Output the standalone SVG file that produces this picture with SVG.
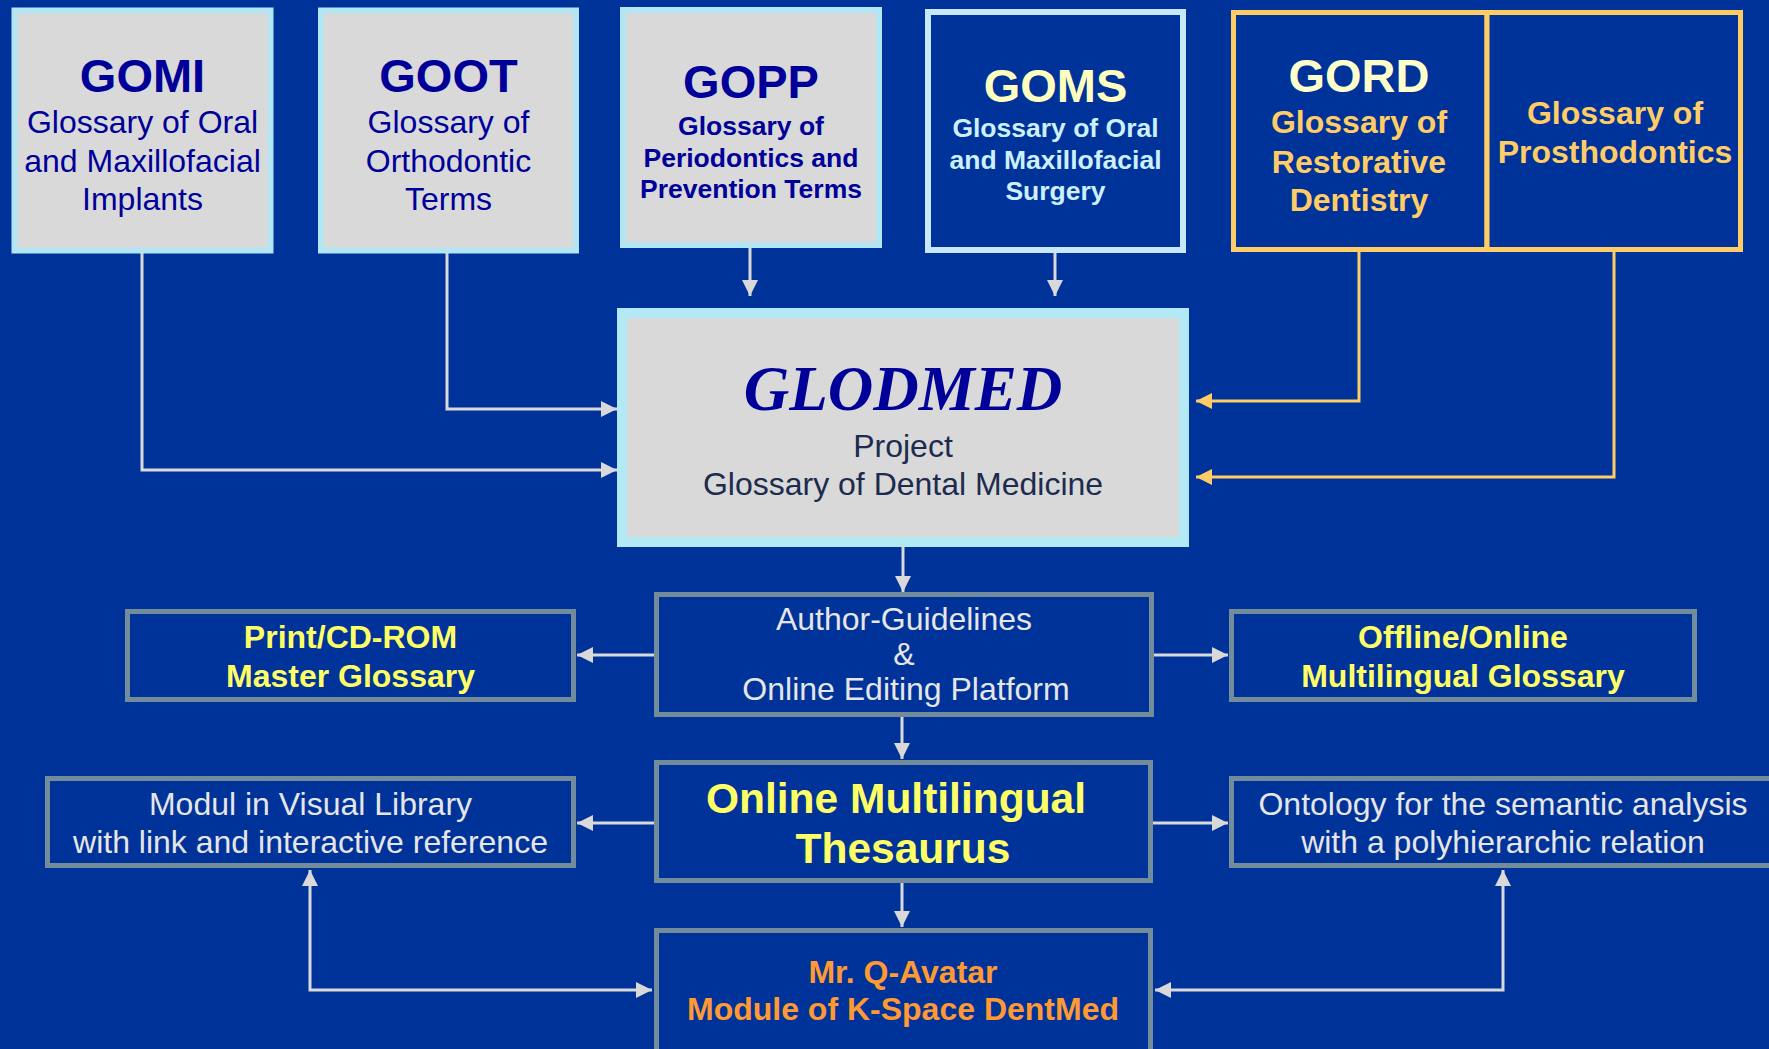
<svg xmlns="http://www.w3.org/2000/svg" width="1769" height="1049" viewBox="0 0 1769 1049">
<defs>
<style>
text{font-family:"Liberation Sans",Arial,Helvetica,sans-serif;text-anchor:middle}
.title{font-size:47px;font-weight:bold}
.b{font-weight:bold}
.glo{font-family:"Liberation Serif","Times New Roman",serif;font-size:63px;font-weight:bold;font-style:italic;fill:#000099}
.gray{fill:#003399;stroke:#728c9c;stroke-width:5}
.cyan{fill:#d9d9d9;stroke:#b3e6f2;stroke-width:6}
.conn{fill:none;stroke:#d9d9d9;stroke-width:3}
.gold{fill:none;stroke:#ffcc66;stroke-width:3}
.t32{font-size:32px}
.t26{font-size:26.5px;font-weight:bold}
.lt{fill:#e6e6e6}
.yel{fill:#ffff66;font-weight:bold}
</style>
<marker id="ah" markerUnits="userSpaceOnUse" markerWidth="16" markerHeight="16" refX="16" refY="8" orient="auto-start-reverse">
<path d="M0,0 L16,8 L0,16 z" fill="#d9d9d9"/>
</marker>
<marker id="ahg" markerUnits="userSpaceOnUse" markerWidth="16" markerHeight="16" refX="16" refY="8" orient="auto">
<path d="M0,0 L16,8 L0,16 z" fill="#ffcc66"/>
</marker>
</defs>
<rect x="0" y="0" width="1769" height="1049" fill="#003399"/>

<g id="connectors">
<path class="conn" d="M142,253 V470 H617" marker-end="url(#ah)"/>
<path class="conn" d="M447,253 V409 H617" marker-end="url(#ah)"/>
<path class="conn" d="M750,248 V296" marker-end="url(#ah)"/>
<path class="conn" d="M1055,253 V296" marker-end="url(#ah)"/>
<path class="gold" d="M1359,251 V401 H1196" marker-end="url(#ahg)"/>
<path class="gold" d="M1614,251 V477 H1196" marker-end="url(#ahg)"/>
<path class="conn" d="M903,545 V592" marker-end="url(#ah)"/>
<path class="conn" d="M654,655 H577" marker-end="url(#ah)"/>
<path class="conn" d="M1154,655 H1228" marker-end="url(#ah)"/>
<path class="conn" d="M902,717 V759" marker-end="url(#ah)"/>
<path class="conn" d="M654,823 H577" marker-end="url(#ah)"/>
<path class="conn" d="M1153,823 H1228" marker-end="url(#ah)"/>
<path class="conn" d="M902,883 V927" marker-end="url(#ah)"/>
<path class="conn" d="M310,870 V990 H652" marker-start="url(#ah)" marker-end="url(#ah)"/>
<path class="conn" d="M1503,870 V990 H1155" marker-start="url(#ah)" marker-end="url(#ah)"/>
</g>

<g id="gomi">
<rect class="cyan" x="14.5" y="10.5" width="256" height="240"/>
<text class="title" x="142.5" y="92" fill="#000099">GOMI</text>
<text class="t32" x="142.5" y="133" fill="#000099">Glossary of Oral</text>
<text class="t32" x="142.5" y="172" fill="#000099">and Maxillofacial</text>
<text class="t32" x="142.5" y="210" fill="#000099">Implants</text>
</g>

<g id="goot">
<rect class="cyan" x="321" y="10.5" width="255" height="240"/>
<text class="title" x="448.5" y="92" fill="#000099">GOOT</text>
<text class="t32" x="448.5" y="133" fill="#000099">Glossary of</text>
<text class="t32" x="448.5" y="172" fill="#000099">Orthodontic</text>
<text class="t32" x="448.5" y="210" fill="#000099">Terms</text>
</g>

<g id="gopp">
<rect class="cyan" x="623" y="10" width="256" height="235"/>
<text class="title" x="751" y="98" fill="#000099">GOPP</text>
<text class="t26" x="751" y="135" fill="#000099">Glossary of</text>
<text class="t26" x="751" y="167" fill="#000099">Periodontics and</text>
<text class="t26" x="751" y="198" fill="#000099">Prevention Terms</text>
</g>

<g id="goms">
<rect x="928" y="12" width="255" height="238" fill="#003399" stroke="#c8e8fa" stroke-width="6"/>
<text class="title" x="1055.5" y="102" fill="#ffffc0">GOMS</text>
<text class="t26" x="1055.5" y="137" fill="#ccf0ff">Glossary of Oral</text>
<text class="t26" x="1055.5" y="169" fill="#ccf0ff">and Maxillofacial</text>
<text class="t26" x="1055.5" y="200" fill="#ccf0ff">Surgery</text>
</g>

<g id="gord">
<rect x="1233.5" y="12.5" width="253.5" height="237" fill="#003399" stroke="#ffcc66" stroke-width="5"/>
<text class="title" x="1359" y="92" fill="#ffffcc">GORD</text>
<text class="t32 b" x="1359" y="133" fill="#ffcc66">Glossary of</text>
<text class="t32 b" x="1359" y="173" fill="#ffcc66">Restorative</text>
<text class="t32 b" x="1359" y="211" fill="#ffcc66">Dentistry</text>
</g>

<g id="prosthodontics">
<rect x="1487" y="12.5" width="253.5" height="237" fill="#003399" stroke="#ffcc66" stroke-width="5"/>
<text class="t32 b" x="1615" y="124" fill="#ffcc66">Glossary of</text>
<text class="t32 b" x="1615" y="163" fill="#ffcc66">Prosthodontics</text>
</g>

<g id="glodmed">
<rect x="622" y="313" width="562" height="229" fill="#d9d9d9" stroke="#b3e8f5" stroke-width="10"/>
<text class="glo" x="903" y="410">GLODMED</text>
<text class="t32" x="903" y="457" fill="#1c2b4e">Project</text>
<text class="t32" x="903" y="495" fill="#1c2b4e">Glossary of Dental Medicine</text>
</g>

<g id="author">
<rect class="gray" x="656.5" y="594.5" width="495" height="120"/>
<text class="t32 lt" x="904" y="630">Author-Guidelines</text>
<text class="t32 lt" x="904" y="665">&amp;</text>
<text class="t32 lt" x="906" y="700">Online Editing Platform</text>
</g>

<g id="print">
<rect class="gray" x="127.5" y="611.5" width="446" height="88"/>
<text class="t32 yel" x="350.5" y="648">Print/CD-ROM</text>
<text class="t32 yel" x="350.5" y="687">Master Glossary</text>
</g>

<g id="offline">
<rect class="gray" x="1231.5" y="611.5" width="463" height="88"/>
<text class="t32 yel" x="1463" y="648">Offline/Online</text>
<text class="t32 yel" x="1463" y="687">Multilingual Glossary</text>
</g>

<g id="thesaurus">
<rect class="gray" x="656.5" y="762.5" width="494" height="118"/>
<text class="yel" style="font-size:42.5px" x="896" y="813">Online Multilingual</text>
<text class="yel" style="font-size:42.5px" x="903" y="863">Thesaurus</text>
</g>

<g id="modul">
<rect class="gray" x="47.5" y="778.5" width="526" height="87"/>
<text class="t32 lt" x="310.5" y="815">Modul in Visual Library</text>
<text class="t32 lt" x="310.5" y="853">with link and interactive reference</text>
</g>

<g id="ontology">
<rect class="gray" x="1231.5" y="778.5" width="543" height="87"/>
<text class="t32 lt" x="1503" y="815">Ontology for the semantic analysis</text>
<text class="t32 lt" x="1503" y="853">with a polyhierarchic relation</text>
</g>

<g id="mrq">
<rect class="gray" x="656.5" y="930.5" width="494" height="126"/>
<text class="t32 b" x="903" y="983" fill="#ff9933">Mr. Q-Avatar</text>
<text class="t32 b" x="903" y="1020" fill="#ff9933">Module of K-Space DentMed</text>
</g>
</svg>
